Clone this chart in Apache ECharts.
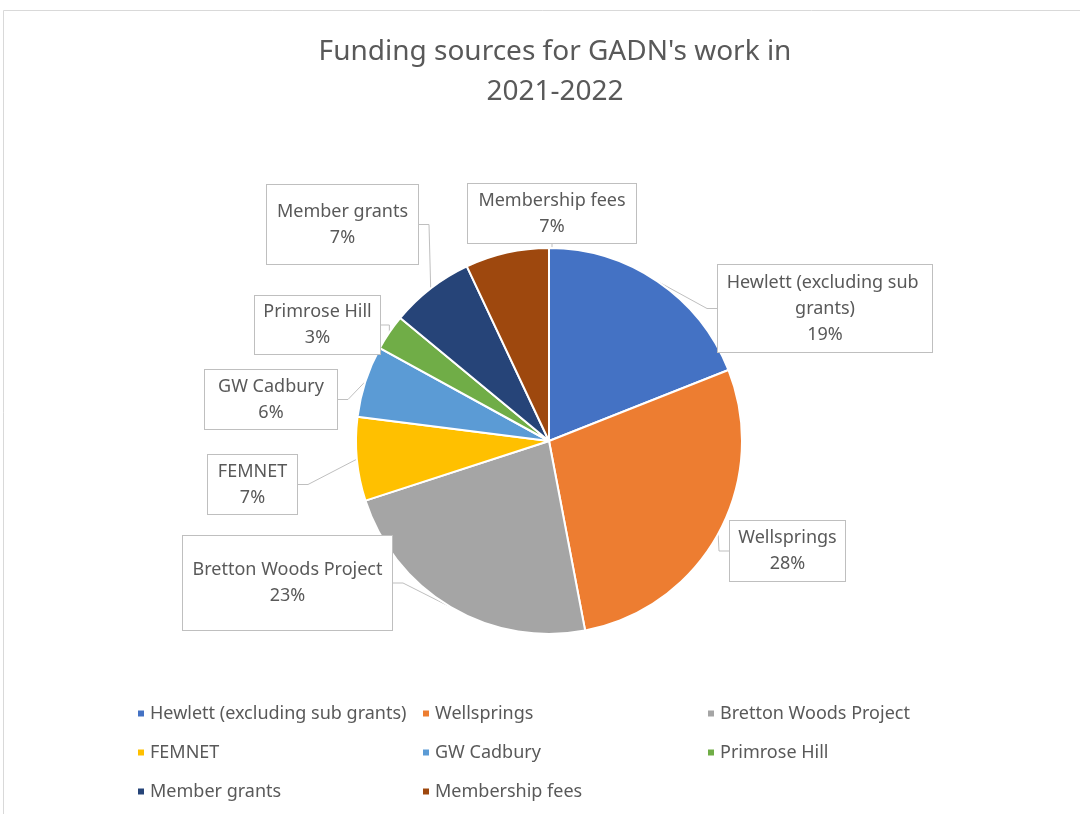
<!DOCTYPE html>
<html>
<head>
<meta charset="utf-8">
<script src="https://cdn.jsdelivr.net/npm/echarts@6/dist/echarts.min.js"></script>
<style>
html,body{margin:0;padding:0;background:#fff;}
#chart{width:1080px;height:814px;}
</style>
</head>
<body>
<div id="chart"></div>
<script>
// ---- data ----
const categories = [
  "Hewlett (excluding sub grants)",
  "Wellsprings",
  "Bretton Woods Project",
  "FEMNET",
  "GW Cadbury",
  "Primrose Hill",
  "Member grants",
  "Membership fees"
];
const shares = [19, 28, 23, 7, 6, 3, 7, 7];
const colors = ["#4472C4", "#ED7D31", "#A5A5A5", "#FFC000", "#5B9BD5", "#70AD47", "#264478", "#9E480E"];
const titleText = "Funding sources for GADN's work in\n2021-2022";

// ---- label box layout (centre x, centre y, width, height) ----
const labelBoxes = [
  [825, 308.5, 214, 87],
  [787.5, 551, 115, 60],
  [287.5, 583, 209, 94],
  [252.5, 484.5, 89, 59],
  [271, 399.5, 132, 59],
  [317.5, 325, 125, 58],
  [342.5, 224.5, 151, 79],
  [552, 213.5, 168, 59]
];
const LH = 26;
const FONT = "'Noto Sans', sans-serif";

function lineCount(i) { return i === 0 ? 3 : 2; }

const pieData = categories.map((name, i) => {
  const [cx, cy, w, h] = labelBoxes[i];
  const padV = Math.max(0, (h - lineCount(i) * LH) / 2);
  return {
    name: name,
    value: shares[i],
    label: {
      width: w - 8,
      padding: [padV, 4, padV, 4]
    }
  };
});

const chart = echarts.init(document.getElementById('chart'), null, {renderer: 'canvas'});
chart.setOption({
  backgroundColor: '#ffffff',
  color: colors,
  animation: false,
  title: {
    text: titleText,
    left: 550,
    textAlign: 'center',
    top: 27,
    textStyle: {
      fontFamily: FONT,
      fontSize: 28,
      fontWeight: 'normal',
      color: '#595959',
      lineHeight: 40
    }
  },
  graphic: [{
    type: 'rect',
    shape: {x: 3.5, y: 10.5, width: 1200, height: 900},
    style: {fill: 'none', stroke: '#d9d9d9', lineWidth: 1},
    silent: true,
    z: -10
  }],
  legend: {
    left: 131,
    top: 694,
    width: 880,
    itemWidth: 8,
    itemHeight: 8,
    itemGap: 10,
    icon: 'rect',
    data: categories,
    textStyle: {
      fontFamily: FONT,
      fontSize: 18,
      color: '#595959',
      width: 261,
      lineHeight: 29
    }
  },
  series: [{
    type: 'pie',
    center: [549, 441],
    radius: [0, 193],
    startAngle: 90,
    clockwise: true,
    data: pieData,
    itemStyle: {borderColor: '#ffffff', borderWidth: 2},
    label: {
      show: true,
      position: 'outside',
      formatter: '{b}\n{d}%',
      fontFamily: FONT,
      fontSize: 18,
      lineHeight: LH,
      color: '#595959',
      align: 'center',
      overflow: 'break',
      backgroundColor: '#ffffff',
      borderColor: '#bfbfbf',
      borderWidth: 1
    },
    labelLine: {
      show: true,
      length: 10,
      length2: 10,
      lineStyle: {color: '#bfbfbf', width: 1}
    },
    labelLayout: function (params) {
      const b = labelBoxes[params.dataIndex];
      return {x: b[0], y: b[1], align: 'center', verticalAlign: 'middle'};
    },
    emphasis: {disabled: true}
  }]
});
</script>
</body>
</html>
